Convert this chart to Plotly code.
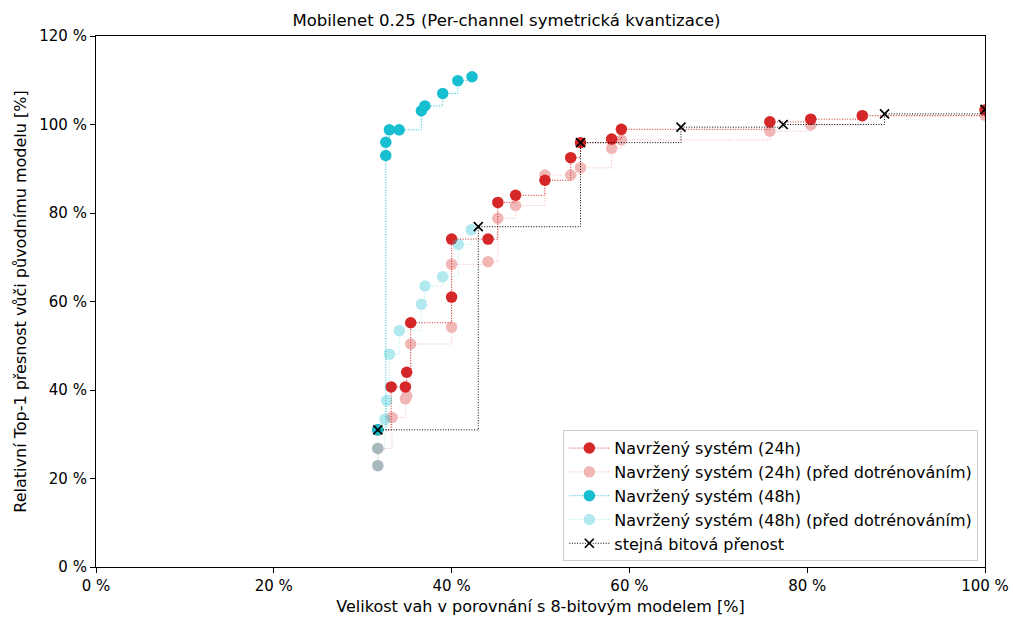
import plotly.graph_objects as go

# Red 24h (after fine-tuning)
x_24 = [31.7, 33.2, 34.8, 34.95, 35.4, 40.0, 40.0, 44.1, 45.2, 47.2, 50.5, 53.4, 54.5, 58.0, 59.1, 75.8, 80.4, 86.2, 100.0]
y_24 = [31.0, 40.7, 40.7, 44.0, 55.2, 61.0, 74.1, 74.1, 82.4, 84.0, 87.4, 92.5, 95.9, 96.7, 98.9, 100.6, 101.2, 102.0, 103.3]
# Red 24h before fine-tuning
x_24p = [31.7, 31.7, 33.3, 34.8, 34.95, 35.4, 40.0, 40.0, 44.1, 45.2, 47.2, 50.5, 53.4, 54.5, 58.0, 59.1, 75.8, 80.4, 86.2, 100.0]
y_24p = [22.9, 26.8, 33.8, 38.0, 38.7, 50.4, 54.2, 68.4, 69.0, 78.8, 81.7, 88.6, 88.6, 90.2, 94.6, 96.5, 98.5, 99.9, 102.0, 102.1]
# Cyan 48h
x_48 = [31.7, 32.6, 32.6, 33.0, 34.1, 36.6, 37.0, 39.0, 40.7, 42.3]
y_48 = [31.0, 93.0, 96.0, 98.8, 98.8, 103.1, 104.2, 107.0, 109.9, 110.8]
# Cyan 48h before fine-tuning
x_48p = [31.7, 31.7, 32.5, 32.7, 33.0, 34.1, 36.6, 37.0, 39.0, 40.75, 42.2]
y_48p = [22.9, 26.8, 33.4, 37.6, 48.1, 53.4, 59.4, 63.5, 65.6, 72.9, 76.2]
# Uniform bit-width
x_uni = [31.7, 43.0, 54.5, 65.8, 77.3, 88.7, 100.0]
y_uni = [31.0, 76.9, 95.9, 99.4, 100.0, 102.4, 103.4]

x_ticks = [0, 20, 40, 60, 80, 100]
y_ticks = [0, 20, 40, 60, 80, 100, 120]

RED = "#d62728"
CYAN = "#17becf"
FONT = "DejaVu Sans"
DOT = "1px,1.6px"

fig = go.Figure()

def add_series(x, y, name, color, opacity):
    fig.add_trace(go.Scatter(
        x=x, y=y, name=name, mode="lines+markers",
        line=dict(color=color, width=1, dash=DOT, shape="hv"),
        marker=dict(color=color, size=11.5, symbol="circle"),
        opacity=opacity,
    ))

add_series(x_24, y_24, "Navržený systém (24h)", RED, 1.0)
add_series(x_24p, y_24p, "Navržený systém (24h) (před dotrénováním)", RED, 0.33)
add_series(x_48, y_48, "Navržený systém (48h)", CYAN, 1.0)
add_series(x_48p, y_48p, "Navržený systém (48h) (před dotrénováním)", CYAN, 0.33)

fig.add_trace(go.Scatter(
    x=x_uni, y=y_uni, name="stejná bitová přenost", mode="lines+markers",
    line=dict(color="black", width=1, dash=DOT, shape="hv"),
    marker=dict(color="black", size=9, symbol="x-thin", line=dict(color="black", width=1.7)),
))

axis_common = dict(
    showgrid=False, zeroline=False, showline=True, linecolor="black", linewidth=1.1,
    mirror=True, ticks="outside", ticklen=5, tickwidth=1.1, tickcolor="black",
    tickfont=dict(family=FONT, size=15, color="black"), automargin=False,
)

fig.update_layout(
    width=1013, height=619,
    margin=dict(l=96, r=28, t=36, b=52),
    paper_bgcolor="white", plot_bgcolor="white",
    font=dict(family=FONT, size=15, color="black"),
    title=dict(text="Mobilenet 0.25 (Per-channel symetrická kvantizace)",
               x=0.5, xanchor="center", xref="container",
               y=1 - 20 / 619, yref="container", yanchor="middle",
               font=dict(family=FONT, size=16.5, color="black")),
    xaxis=dict(range=[0, 100], tickvals=x_ticks, ticktext=[f"{v} %" for v in x_ticks],
               title=dict(text="Velikost vah v porovnání s 8-bitovým modelem [%]", standoff=6,
                          font=dict(family=FONT, size=16)), **axis_common),
    yaxis=dict(range=[0, 120], tickvals=y_ticks, ticktext=[f"{v} %" for v in y_ticks],
               title=dict(text="Relativní Top-1 přesnost vůči původnímu modelu [%]", standoff=8,
                          font=dict(family=FONT, size=16)), **axis_common),
    legend=dict(x=0.9925, y=0.011, xanchor="right", yanchor="bottom",
                bgcolor="rgba(255,255,255,0.8)", bordercolor="#cccccc", borderwidth=1,
                font=dict(family=FONT, size=16, color="black"), tracegroupgap=0,
                itemwidth=40),
    showlegend=True,
)

fig.write_html("out.html")
